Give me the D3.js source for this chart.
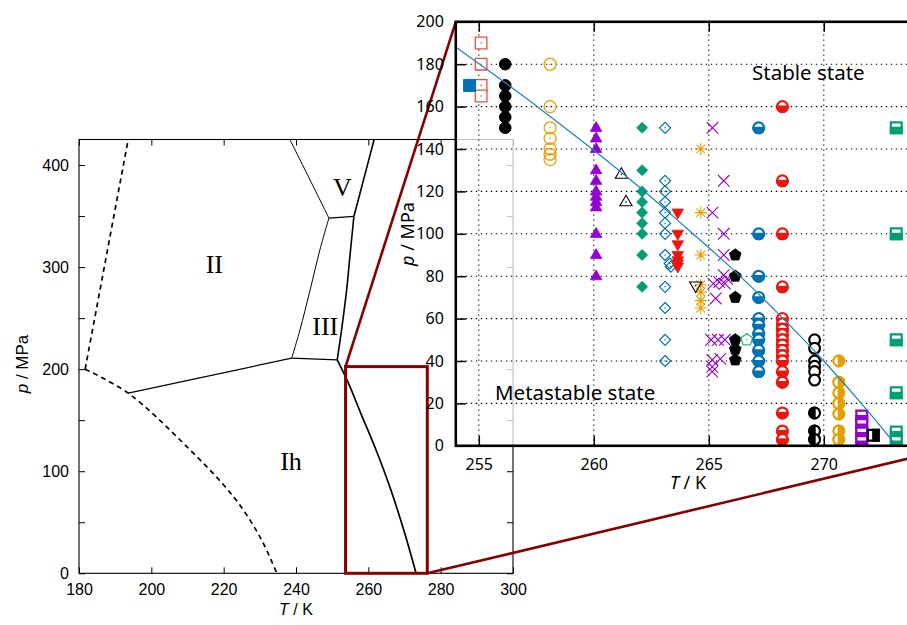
<!DOCTYPE html>
<html><head><meta charset="utf-8">
<script src="https://cdn.jsdelivr.net/npm/d3@7"></script>
<style>body{margin:0;background:#fff}svg{display:block}</style>
</head><body>
<svg id="c" width="907" height="625"></svg>
<script>
// ---------------- main phase diagram data (T / K, p / MPa) ----------------
const mainTicksT = [180, 200, 220, 240, 260, 280, 300];
const mainTicksP = [0, 50, 100, 150, 200, 250, 300, 350, 400];
const mainLabelP = [0, 100, 200, 300, 400];

const lineIIdashed   = [[181.7, 200], [193.6, 425]];
const lineIhDashed   = [[181.7, 200], [193.6, 176.5], [209.8, 124.1], [222.7, 75.1], [230.0, 35.9], [234.7, 0]];
const lineIhII       = [[193.6, 176.5], [238.8, 210.8]];
const lineIhIII      = [[238.8, 210.8], [251.4, 209.1]];
const lineIIIII      = [[238.8, 210.8], [241.1, 238.4], [243.9, 277.6], [246.6, 316.8], [249.1, 348]];
const lineIIIL       = [[251.4, 209.1], [252.6, 238.4], [254.0, 277.6], [254.9, 310.2], [256.0, 349.6]];
const lineIIIV       = [[249.1, 348], [256.0, 349.6]];
const lineIIV        = [[249.1, 348], [243.9, 385.3], [238.3, 425]];
const lineVL         = [[256.0, 349.6], [257.7, 372.3], [261.6, 425]];
const lineIhL        = [[251.4, 209.1], [254.5, 186.3], [258, 156], [262, 122], [266, 84], [270, 40], [273.2, 0]];

const phaseLabels = [["II", 214.3, 273], ["V", 342.5, 196], ["III", 325.3, 335], ["Ih", 291, 470]];
const zoomBoxT = [253.7, 276.3];
const zoomBoxP = [0, 202.5];

// ---------------- inset data ----------------
const insetTicksT = [255, 260, 265, 270, 275];
const insetLabelT = [255, 260, 265, 270];
const insetTicksP = [0, 20, 40, 60, 80, 100, 120, 140, 160, 180, 200];
const meltingIh = [[254, 188], [256, 172.4], [258, 156.2], [260, 139.4], [262, 121.8], [264, 103], [266, 83.7], [268, 62.6], [270, 40], [272, 15.3], [273.16, 0]];

const redOpenSquares   = [[255.1, 190], [255.1, 180], [255.1, 170], [255.1, 165]];
const blueFilledSquare = [[254.6, 170]];
const blackDots        = [[256.15, 180], [256.15, 170], [256.15, 165], [256.15, 160], [256.15, 155], [256.15, 150]];
const orangeOpenCircles= [[258.1, 180], [258.1, 160], [258.1, 150], [258.1, 145], [258.1, 140], [258.1, 137.5], [258.1, 135]];
const purpleTriangles  = [[260.1, 150], [260.1, 145], [260.1, 140], [260.1, 130], [260.1, 125], [260.1, 120], [260.1, 117.5], [260.1, 115], [260.1, 112.5], [260.1, 100], [260.1, 90], [260.1, 80]];
const blackOpenTriUp   = [[261.2, 128], [261.4, 115]];
const greenDiamonds    = [[262.1, 150], [262.1, 130], [262.1, 120], [262.1, 115], [262.1, 110], [262.1, 105], [262.1, 100], [262.1, 90], [262.1, 75]];
const blueOpenDiamonds = [[263.1, 150], [263.1, 125], [263.1, 120], [263.1, 115], [263.1, 110], [263.1, 105], [263.1, 100], [263.1, 90], [263.3, 86], [263.35, 84.5], [263.1, 75], [263.1, 65], [263.1, 50], [263.1, 40]];
const redTriDown       = [[263.65, 110], [263.65, 100], [263.65, 95], [263.65, 90], [263.65, 87.5], [263.65, 86], [263.65, 84.5]];
const orangeAsterisks  = [[264.65, 140], [264.65, 110], [264.65, 90], [264.65, 76], [264.65, 72.5], [264.65, 68.5], [264.65, 65]];
const blackOpenTriDown = [[264.43, 75.5]];
const purpleCrosses    = [[265.16, 150], [265.65, 125], [265.16, 110], [265.65, 100], [265.65, 90], [265.65, 80.5], [265.2, 76.5], [265.45, 77.2], [265.7, 76.5], [265.8, 78.8], [265.3, 69.5], [265.1, 50], [265.4, 50], [265.7, 50], [265.15, 40.5], [265.5, 41], [265.15, 37.3], [265.15, 35]];
const blackPentagons   = [[266.15, 90], [266.15, 80], [266.15, 70], [266.15, 50], [266.15, 45.5], [266.15, 40.5]];
const greenOpenPentagon= [[266.65, 50]];
const blueHalfCircles  = [[267.17, 150], [267.17, 100], [267.17, 80], [267.17, 70], [267.17, 60], [267.17, 57], [267.17, 53], [267.17, 50], [267.17, 45], [267.17, 40], [267.17, 35]];
const redHalfCircles   = [[268.2, 160], [268.2, 125], [268.2, 100], [268.2, 75], [268.2, 60], [268.2, 57.5], [268.2, 55], [268.2, 52.5], [268.2, 50], [268.2, 47.5], [268.2, 45], [268.2, 42.5], [268.2, 40], [268.2, 35], [268.2, 30], [268.2, 15.5], [268.2, 7], [268.2, 3]];
const blackOpenCircles = [[269.6, 50], [269.6, 46], [269.6, 40], [269.6, 37.5], [269.6, 35], [269.6, 31]];
const blackHalfCircles = [[269.6, 15.5], [269.6, 7], [269.6, 3]];
const orangeHalfCircles= [[270.65, 40], [270.65, 30], [270.65, 25], [270.65, 20], [270.65, 15], [270.65, 7], [270.65, 3]];
const purpleHalfSquares= [[271.65, 14], [271.65, 10], [271.65, 6], [271.65, 2]];
const blackHalfSquare  = [[272.15, 5]];
const greenHalfSquares = [[273.15, 150], [273.15, 100], [273.15, 50], [273.15, 25], [273.15, 6.5], [273.15, 2]];

// ---------------- drawing ----------------
const svg = d3.select("#c");
const MAROON = "#870000";
const RED = "#e8170f", ORANGE = "#e69f00", BLUE = "#0072b2", GREEN = "#009e73", PURPLE = "#9400d3";

// main scales
const mx = d3.scaleLinear().domain([180, 300]).range([79, 513]);
const my = d3.scaleLinear().domain([0, 425]).range([573.3, 139.5]);
const mainFont = "'Liberation Sans', Arial, sans-serif";

const main = svg.append("g");
const mline = d3.line().x(d => mx(d[0])).y(d => my(d[1]));
const mcurve = d3.line().x(d => mx(d[0])).y(d => my(d[1])).curve(d3.curveCatmullRom.alpha(0.5));

main.append("path").attr("d", mline(lineIIdashed)).attr("fill", "none").attr("stroke", "#000").attr("stroke-width", 1.7).attr("stroke-dasharray", "5,4");
main.append("path").attr("d", mcurve(lineIhDashed)).attr("fill", "none").attr("stroke", "#000").attr("stroke-width", 1.7).attr("stroke-dasharray", "5,4");
[[lineIhII, 1.2, false], [lineIhIII, 1.2, false], [lineIIIII, 1.0, true], [lineIIIL, 1.6, true], [lineIIIV, 1.2, false], [lineIIV, 1.0, true], [lineVL, 1.6, true], [lineIhL, 1.7, true]]
  .forEach(([d, w, c]) => main.append("path").attr("d", (c ? mcurve : mline)(d)).attr("fill", "none").attr("stroke", "#000").attr("stroke-width", w));

phaseLabels.forEach(([t, x, y]) => main.append("text").attr("x", x).attr("y", y).attr("text-anchor", "middle")
  .attr("font-family", "'Liberation Serif', 'Times New Roman', serif").attr("font-size", 26).text(t));

// main frame & axes
main.append("rect").attr("x", mx(180)).attr("y", my(425)).attr("width", mx(300) - mx(180)).attr("height", my(0) - my(425))
  .attr("fill", "none").attr("stroke", "#000").attr("stroke-width", 1.1);
function styleAxis(g, size) {
  g.select(".domain").remove();
  g.selectAll("line").attr("stroke", "#000").attr("stroke-width", 1);
  g.selectAll("text").attr("font-family", mainFont).attr("font-size", size).attr("fill", "#000");
}
main.append("g").attr("transform", `translate(0,${my(0)})`)
  .call(d3.axisBottom(mx).tickValues(mainTicksT).tickSizeInner(-6).tickSizeOuter(0).tickPadding(10).tickFormat(d3.format("d")))
  .call(g => styleAxis(g, 16));
main.append("g").attr("transform", `translate(0,${my(425)})`)
  .call(d3.axisTop(mx).tickValues(mainTicksT).tickSizeInner(-6).tickSizeOuter(0).tickFormat(""))
  .call(g => styleAxis(g, 16));
main.append("g").attr("transform", `translate(${mx(180)},0)`)
  .call(d3.axisLeft(my).tickValues(mainTicksP).tickSizeInner(-6).tickSizeOuter(0).tickPadding(10).tickFormat(d => mainLabelP.includes(d) ? d : ""))
  .call(g => styleAxis(g, 16));
main.append("g").attr("transform", `translate(${mx(300)},0)`)
  .call(d3.axisRight(my).tickValues(mainTicksP).tickSizeInner(-6).tickSizeOuter(0).tickFormat(""))
  .call(g => styleAxis(g, 16));

const mxl = main.append("text").attr("x", 296).attr("y", 615).attr("text-anchor", "middle").attr("font-family", mainFont).attr("font-size", 16);
mxl.append("tspan").attr("font-style", "italic").text("T");
mxl.append("tspan").text(" / K");
const myl = main.append("text").attr("transform", "translate(28,364) rotate(-90)").attr("text-anchor", "middle").attr("font-family", mainFont).attr("font-size", 17);
myl.append("tspan").attr("font-style", "italic").text("p");
myl.append("tspan").text(" / MPa");

// inset scales
const ix = d3.scaleLinear().domain([254, 276]).range([455.8, 961.8]);
const iy = d3.scaleLinear().domain([0, 200]).range([445.8, 21.8]);
const insetFont = "'Noto Sans', 'Open Sans', sans-serif";

// zoom box & connectors
svg.append("rect").attr("x", mx(zoomBoxT[0])).attr("y", my(zoomBoxP[1])).attr("width", mx(zoomBoxT[1]) - mx(zoomBoxT[0]))
  .attr("height", my(zoomBoxP[0]) - my(zoomBoxP[1])).attr("fill", "none").attr("stroke", MAROON).attr("stroke-width", 3);
svg.append("line").attr("x1", mx(zoomBoxT[0])).attr("y1", my(zoomBoxP[1])).attr("x2", ix(254)).attr("y2", iy(200))
  .attr("stroke", MAROON).attr("stroke-width", 2.6);
svg.append("line").attr("x1", mx(zoomBoxT[1])).attr("y1", my(zoomBoxP[0])).attr("x2", ix(276)).attr("y2", iy(0))
  .attr("stroke", MAROON).attr("stroke-width", 2.6);

const inset = svg.append("g");
inset.append("rect").attr("x", ix(254)).attr("y", iy(200)).attr("width", ix(276) - ix(254)).attr("height", iy(0) - iy(200))
  .attr("fill", "#fff").attr("fill-opacity", 0.75);
svg.append("defs").append("clipPath").attr("id", "clipI").append("rect")
  .attr("x", ix(254)).attr("y", iy(200)).attr("width", ix(276) - ix(254)).attr("height", iy(0) - iy(200));

// grid
const grid = inset.append("g").attr("stroke", "#000").attr("stroke-width", 1.1).attr("stroke-dasharray", "1.4,3.6");
insetTicksP.filter(p => p > 0 && p < 200).forEach(p => grid.append("line").attr("x1", ix(254)).attr("x2", ix(276)).attr("y1", iy(p)).attr("y2", iy(p)));
insetTicksT.forEach(t => grid.append("line").attr("x1", ix(t)).attr("x2", ix(t)).attr("y1", iy(0)).attr("y2", iy(200)));

// state labels
inset.append("text").attr("x", 752).attr("y", 80).attr("font-family", insetFont).attr("font-size", 20.5).text("Stable state");
inset.append("text").attr("x", 495).attr("y", 400).attr("font-family", insetFont).attr("font-size", 20.5).text("Metastable state");

// marker shapes
function shapePath(type, s) {
  switch (type) {
    case "square": return `M${-s},${-s}h${2 * s}v${2 * s}h${-2 * s}Z`;
    case "triUp": return `M0,${-s * 1.15}L${s * 1.05},${s * 0.65}L${-s * 1.05},${s * 0.65}Z`;
    case "triDown": return `M0,${s * 1.15}L${s * 1.05},${-s * 0.65}L${-s * 1.05},${-s * 0.65}Z`;
    case "diamond": return `M0,${-s}L${s},0L0,${s}L${-s},0Z`;
    case "pentagon": return d3.range(5).map(k => { const a = -Math.PI / 2 + k * 2 * Math.PI / 5; return (k ? "L" : "M") + (s * Math.cos(a)).toFixed(2) + "," + (s * Math.sin(a)).toFixed(2); }).join("") + "Z";
    case "cross": return `M${-s},${-s}L${s},${s}M${-s},${s}L${s},${-s}`;
    case "asterisk": { const d = s * 0.72; return `M${-s},0H${s}M0,${-s}V${s}M${-d},${-d}L${d},${d}M${-d},${d}L${d},${-d}`; }
    case "circle": return `M${-s},0A${s},${s} 0 1 0 ${s},0A${s},${s} 0 1 0 ${-s},0Z`;
  }
}
function halfPath(type, s, side) {
  if (type === "circle") {
    if (side === "bottom") return `M${-s},0A${s},${s} 0 0 0 ${s},0Z`;
    if (side === "left") return `M0,${-s}A${s},${s} 0 0 0 0,${s}Z`;
    if (side === "right") return `M0,${-s}A${s},${s} 0 0 1 0,${s}Z`;
  } else {
    if (side === "bottom") return `M${-s},0H${s}V${s}H${-s}Z`;
    if (side === "right") return `M0,${-s}H${s}V${s}H0Z`;
  }
}

const markerStyles = [
  { data: redOpenSquares, shape: "square", s: 5.8, fill: "#fff", stroke: "#ee4a44", sw: 1.3, dot: true },
  { data: blueFilledSquare, shape: "square", s: 6, fill: BLUE, stroke: BLUE, sw: 1 },
  { data: blackDots, shape: "circle", s: 5.8, fill: "#000", stroke: "#000", sw: 1 },
  { data: orangeOpenCircles, shape: "circle", s: 6, fill: "none", stroke: ORANGE, sw: 1.3, dot: true },
  { data: purpleTriangles, shape: "triUp", s: 5.5, fill: PURPLE, stroke: PURPLE, sw: 0.8 },
  { data: blackOpenTriUp, shape: "triUp", s: 5.8, fill: "none", stroke: "#000", sw: 1.1, dot: true },
  { data: greenDiamonds, shape: "diamond", s: 5.5, fill: GREEN, stroke: GREEN, sw: 0.8 },
  { data: blueOpenDiamonds, shape: "diamond", s: 5.5, fill: "none", stroke: BLUE, sw: 1.2, dot: true },
  { data: redTriDown, shape: "triDown", s: 5.5, fill: RED, stroke: RED, sw: 0.8 },
  { data: orangeAsterisks, shape: "asterisk", s: 6, fill: "none", stroke: ORANGE, sw: 1.1 },
  { data: blackOpenTriDown, shape: "triDown", s: 5.8, fill: "none", stroke: "#000", sw: 1.1, dot: true },
  { data: purpleCrosses, shape: "cross", s: 5.8, fill: "none", stroke: PURPLE, sw: 1.1 },
  { data: blackPentagons, shape: "pentagon", s: 6.2, fill: "#000", stroke: "#000", sw: 0.8 },
  { data: greenOpenPentagon, shape: "pentagon", s: 6.2, fill: "none", stroke: "#2fb88a", sw: 1.3, dot: true },
  { data: blueHalfCircles, shape: "circle", s: 5.4, fill: "#fff", stroke: BLUE, sw: 2.2, half: "bottom" },
  { data: redHalfCircles, shape: "circle", s: 5.4, fill: "#fff", stroke: RED, sw: 2.2, half: "bottom" },
  { data: blackOpenCircles, shape: "circle", s: 5.4, fill: "#fff", stroke: "#000", sw: 2.2 },
  { data: blackHalfCircles, shape: "circle", s: 5.4, fill: "#fff", stroke: "#000", sw: 2.2, half: "left" },
  { data: orangeHalfCircles, shape: "circle", s: 5.4, fill: "#fff", stroke: ORANGE, sw: 2.2, half: "right" },
  { data: purpleHalfSquares, shape: "square", s: 5.4, fill: "#fff", stroke: PURPLE, sw: 2.2, half: "bottom" },
  { data: blackHalfSquare, shape: "square", s: 5.4, fill: "#fff", stroke: "#000", sw: 2.2, half: "right" },
  { data: greenHalfSquares, shape: "square", s: 5.4, fill: "#fff", stroke: GREEN, sw: 2.2, half: "bottom" }
];

const marks = inset.append("g").attr("clip-path", "url(#clipI)");
markerStyles.forEach(st => {
  const g = marks.append("g").selectAll("g").data(st.data).join("g")
    .attr("transform", d => `translate(${ix(d[0])},${iy(d[1])})`);
  g.append("path").attr("d", shapePath(st.shape, st.s)).attr("fill", st.fill).attr("stroke", st.stroke).attr("stroke-width", st.sw);
  if (st.half) g.append("path").attr("d", halfPath(st.shape, st.s, st.half)).attr("fill", st.stroke).attr("stroke", st.stroke).attr("stroke-width", st.sw);
  if (st.dot) g.append("circle").attr("r", 0.8).attr("fill", st.stroke);
});

// melting curve
marks.append("path").attr("d", d3.line().x(d => ix(d[0])).y(d => iy(d[1])).curve(d3.curveMonotoneX)(meltingIh))
  .attr("fill", "none").attr("stroke", "#1f82c0").attr("stroke-width", 1.2);

// inset frame and axes
inset.append("rect").attr("x", ix(254)).attr("y", iy(200)).attr("width", ix(276) - ix(254)).attr("height", iy(0) - iy(200))
  .attr("fill", "none").attr("stroke", "#000").attr("stroke-width", 2.6);
function styleInset(g) {
  g.select(".domain").remove();
  g.selectAll("line").attr("stroke", "#000").attr("stroke-width", 1.5);
  g.selectAll("text").attr("font-family", insetFont).attr("font-size", 16).attr("fill", "#000");
}
inset.append("g").attr("transform", `translate(0,${iy(0)})`)
  .call(d3.axisBottom(ix).tickValues(insetTicksT).tickSizeInner(-10).tickSizeOuter(0).tickPadding(13)
    .tickFormat(d => insetLabelT.includes(d) ? d : ""))
  .call(styleInset);
inset.append("g").attr("transform", `translate(0,${iy(200)})`)
  .call(d3.axisTop(ix).tickValues(insetTicksT).tickSizeInner(-10).tickSizeOuter(0).tickFormat(""))
  .call(styleInset);
inset.append("g").attr("transform", `translate(${ix(254)},0)`)
  .call(d3.axisLeft(iy).tickValues(insetTicksP).tickSizeInner(-10).tickSizeOuter(0).tickPadding(12))
  .call(styleInset);

const ixl = inset.append("text").attr("x", 688).attr("y", 489).attr("text-anchor", "middle").attr("font-family", insetFont).attr("font-size", 18);
ixl.append("tspan").attr("font-style", "italic").text("T");
ixl.append("tspan").text(" / K");
const iyl = inset.append("text").attr("transform", "translate(414,234) rotate(-90)").attr("text-anchor", "middle").attr("font-family", insetFont).attr("font-size", 18);
iyl.append("tspan").attr("font-style", "italic").text("p");
iyl.append("tspan").text(" / MPa");
</script>
</body></html>
